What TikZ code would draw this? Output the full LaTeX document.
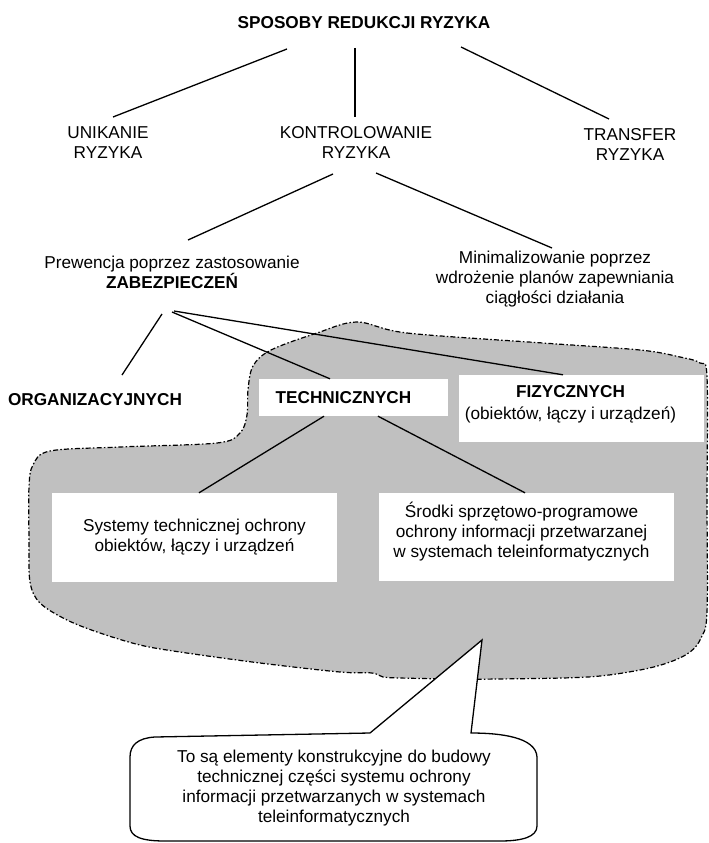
\documentclass[tikz,border=0pt]{standalone}
\usepackage{fontspec}
\setmainfont{Liberation Sans}
\usetikzlibrary{calc}

\definecolor{areagray}{RGB}{192,192,192}

\begin{document}
\begin{tikzpicture}[x=1pt, y=-1pt,
  lbl/.style={align=center, inner sep=0pt, font=\fontsize{17.2}{20}\selectfont},
  wbox/.style={fill=white, inner sep=0pt},
  link/.style={line width=1.3pt},
  dashdot/.style={line width=1.2pt, dash pattern=on 5pt off 2.2pt on 1.5pt off 2.2pt}]

\useasboundingbox (0,0) rectangle (709,843);

%------------------ GRAY AREA ------------------%
\draw[dashdot, fill=areagray]
  plot[smooth cycle, tension=0.55] coordinates {
    (357,322) (407,333) (543,343) (640,350) (680,357) (700,363) (707,377)
    (707,500) (707,612) (701,638) (690,652) (670,662) (640,670) (588,677)
    (498,679) (452,679) (400,678) (383,677) (372,673) (340,672) (260,663)
    (180,652) (140,645) (100,633) (67,620) (40,603) (30,582) (29,540)
    (29,487) (33,465) (50,451) (120,447) (217,443) (240,433)
    (247,415) (248,390) (253,366) (271,350) (317,333)};

%------------------ TOP LEVEL ------------------%
\node[lbl] (title)  at (364,23)  {\textbf{SPOSOBY REDUKCJI RYZYKA}};
\node[lbl] (unik)   at (108,143) {UNIKANIE\\RYZYKA};
\node[lbl] (kontr)  at (356,142) {KONTROLOWANIE\\RYZYKA};
\node[lbl] (transf) at (630,144) {TRANSFER\\RYZYKA};

\draw[link] ($(title.center)+(-77,26)$) -- ($(unik.center)+(5,-26)$);
\draw[link] ($(title.center)+(-9,25)$)  -- ($(kontr.center)+(-1,-25)$);
\draw[link] ($(title.center)+(97,24)$)  -- ($(transf.center)+(-21,-25)$);

%------------------ CONTROL ------------------%
\node[lbl] (prew)  at (172,272.5) {Prewencja poprzez zastosowanie\\\textbf{ZABEZPIECZEŃ}};
\node[lbl] (minim) at (555,279.5) {Minimalizowanie poprzez\\wdrożenie planów zapewniania\\ciągłości działania};

\draw[link] ($(kontr.center)+(-23,32)$) -- ($(prew.center)+(16,-32.5)$);
\draw[link] ($(kontr.center)+(20,31)$)  -- ($(minim.center)+(-3,-31.5)$);

%------------------ SAFEGUARDS ------------------%
\node[lbl] (org) at (95,400) {\textbf{ORGANIZACYJNYCH}};

\node[wbox, minimum width=189, minimum height=37] (tech) at (353.5,397.5) {};
\node[lbl] (techtxt) at ($(tech.center)+(-10,0)$) {\textbf{TECHNICZNYCH}};

\node[wbox, minimum width=245, minimum height=67] (fiz) at (581.5,408.5) {};
\node[lbl, font=\fontsize{17.2}{22}\selectfont] (fiztxt) at ($(fiz.center)+(-11,-4)$)
  {\textbf{FIZYCZNYCH}\\(obiektów, łączy i urządzeń)};

\draw[link] ($(prew.center)+(-10,41.5)$) -- ($(org.center)+(27,-25)$);
\draw[link] ($(prew.center)+(0,39.5)$)   -- ($(tech.north)+(-23.5,0)$);
\draw[link] ($(prew.center)+(2,38.5)$)   -- ($(fiz.north)+(-18.5,0)$);

%------------------ TECHNICAL MEANS ------------------%
\node[wbox, minimum width=285, minimum height=89] (sys) at (194.5,537.5) {};
\node[lbl] (systxt) at (sys.center) {Systemy technicznej ochrony\\obiektów, łączy i urządzeń};

\node[wbox, minimum width=295, minimum height=88] (srodki) at (526.5,537) {};
\node[lbl] (srodkitxt) at ($(srodki.center)+(-5,-5)$)
  {Środki sprzętowo-programowe\\ochrony informacji przetwarzanej\\w systemach teleinformatycznych};

\draw[link] ($(tech.south)+(-29.5,0)$) -- ($(sys.north)+(4.5,0)$);
\draw[link] ($(tech.south)+(24.5,0)$)  -- ($(srodki.north)+(-1.5,0)$);

%------------------ CALLOUT ------------------%
\coordinate (tip) at (482,640);
\draw[link, fill=white]
  (370,733) -- (tip) -- (471,733)
  .. controls (500,733) and (536,737) .. (537,757)
  -- (537,826) .. controls (537,837) and (522,841) .. (500,841)
  -- (165,841) .. controls (142,841) and (130,837) .. (130,826)
  -- (130,757) .. controls (130,745) and (138,738) .. (155,737)
  -- cycle;
\node[lbl] (note) at (334,788)
  {To są elementy konstrukcyjne do budowy\\technicznej części systemu ochrony\\informacji przetwarzanych w systemach\\teleinformatycznych};

\end{tikzpicture}
\end{document}
